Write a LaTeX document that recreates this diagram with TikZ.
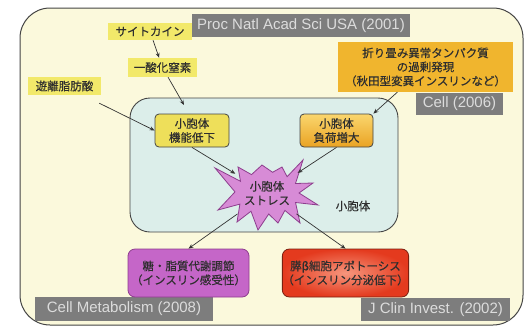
\documentclass[tikz,border=0pt]{standalone}
\usepackage{fontspec}
\setmainfont{Liberation Sans}
\newfontfamily\jp[FakeBold=0.45]{Noto Sans CJK JP}
\usetikzlibrary{arrows.meta,shapes.geometric}

\begin{document}
\begin{tikzpicture}[x=1pt,y=-1pt,
  tagnode/.style={fill=tagyellow,inner sep=0pt,align=center,text=jptext,font=\jp\fontsize{11.5}{14}\selectfont},
  citenode/.style={fill=citegray,text=citetext,inner sep=0pt,font=\fontsize{15}{15}\selectfont},
  ernode/.style={draw=edgegray,line width=0.8pt,rounded corners=4pt,inner sep=0pt,align=center,text=jptext,font=\jp\fontsize{11.5}{14}\selectfont},
  link/.style={draw=linegray,line width=0.7pt,-{Stealth[length=5pt,width=4pt]}}]
\definecolor{cellbg}{HTML}{FBF9DC}
\definecolor{erbg}{HTML}{DCEEEA}
\definecolor{edgegray}{HTML}{444444}
\definecolor{linegray}{HTML}{333333}
\definecolor{jptext}{HTML}{2E2E2E}
\definecolor{tagyellow}{HTML}{F2E96A}
\definecolor{tagorange}{HTML}{F0B52E}
\definecolor{citegray}{HTML}{7D7D7D}
\definecolor{citetext}{HTML}{DCDCDC}
\definecolor{burstpink}{HTML}{D78BD6}
\definecolor{burstedge}{HTML}{8E3E8E}
\definecolor{metabpurple}{HTML}{C566C8}
\useasboundingbox (0,0) rectangle (526,327);
\node [draw=edgegray,line width=1pt,fill=cellbg,rounded corners=30pt,minimum width=503pt,minimum height=317pt,inner sep=0pt] (cell) at (271.5,166.5) {};
\foreach \txt/\cx/\cy/\w/\h [count=\i] in {Proc Natl Acad Sci USA (2001)/301/25.5/218pt/23pt,Cell (2006)/459.5/104/87pt/22pt,Cell Metabolism (2008)/124/309/178pt/24pt,J Clin Invest. (2002)/435.5/309.5/149pt/23pt}
  {\node [citenode,minimum width=\w,minimum height=\h] (cite\i) at (\cx,\cy) {\txt};}
\node [tagnode,minimum width=84pt,minimum height=17pt] (cytokine) at (150,31.5) {サイトカイン};
\node [tagnode,minimum width=69pt,minimum height=19pt] (no) at (162.5,67.5) {一酸化窒素};
\node [tagnode,minimum width=73pt,minimum height=18pt] (ffa) at (64.5,86) {遊離脂肪酸};
\node [tagnode,fill=tagorange,minimum width=175pt,minimum height=50pt] (misfold) at (425.5,67) {折り畳み異常タンパク質\\の過剰発現\\（秋田型変異インスリンなど）};
\node [draw=edgegray,line width=0.9pt,fill=erbg,rounded corners=20pt,minimum width=268pt,minimum height=134pt,inner sep=0pt] (er) at (264,165) {};
\node [ernode,fill={rgb,255:red,238;green,223;blue,90},minimum width=74pt,minimum height=33pt] (lowfn) at (192,130.5) {小胞体\\機能低下};
\node [ernode,top color={rgb,255:red,250;green,214;blue,110},bottom color={rgb,255:red,234;green,163;blue,35},minimum width=73pt,minimum height=33pt] (highld) at (336.5,130.5) {小胞体\\負荷増大};
\node [text=jptext,font=\jp\fontsize{11.5}{14}\selectfont] (erlabel) at (353,206) {小胞体};
\coordinate (burstc) at (267,193);
\draw [fill=burstpink,draw=burstedge,line width=0.8pt] (burstc) +(51,12)
  \foreach \dx/\dy in {28.5/9.5,33/30,17.9/17.4,11/30,1.7/21,-9/37,-16/18.2,-30/29,-27.1/11.1,-49/17,-32/-1.1,-52/-25,-26.5/-11.7,-29/-26,-15.5/-18.4,-5/-28,5.6/-20.7,15/-26,20.1/-16.3,36/-33,28.5/-9.5,46/-10,32/0}
  {-- +(\dx,\dy)} -- cycle;
\node [ellipse,inner sep=0pt,minimum width=84pt,minimum height=58pt,align=center,text=jptext,font=\jp\fontsize{11.5}{14}\selectfont] (stress) at (burstc) {小胞体\\ストレス};
\node [ernode,draw=burstedge,fill=metabpurple,rounded corners=7pt,minimum width=121pt,minimum height=48pt] (metab) at (188.5,273) {糖・脂質代謝調節\\（インスリン感受性）};
\node [ernode,draw={rgb,255:red,122;green,32;blue,16},inner color={rgb,255:red,246;green,150;blue,125},outer color={rgb,255:red,228;green,58;blue,30},rounded corners=7pt,minimum width=121pt,minimum height=48pt] (apop) at (345.5,273) {膵β細胞アポトーシス\\（インスリン分泌低下）};
\coordinate (erentry) at (184,105);
\draw [link] (cytokine) -- (no);
\draw [link] (no) -- (erentry);
\draw [link,shorten <=18pt] (ffa) -- (lowfn.west);
\draw [link] (misfold) -- (highld.north east);
\draw [link] (lowfn.south) -- (stress);
\draw [link] (highld.south) -- (stress);
\draw [link] (stress) -- (metab.north);
\draw [link] (stress) -- (apop.north);
\end{tikzpicture}
\end{document}
